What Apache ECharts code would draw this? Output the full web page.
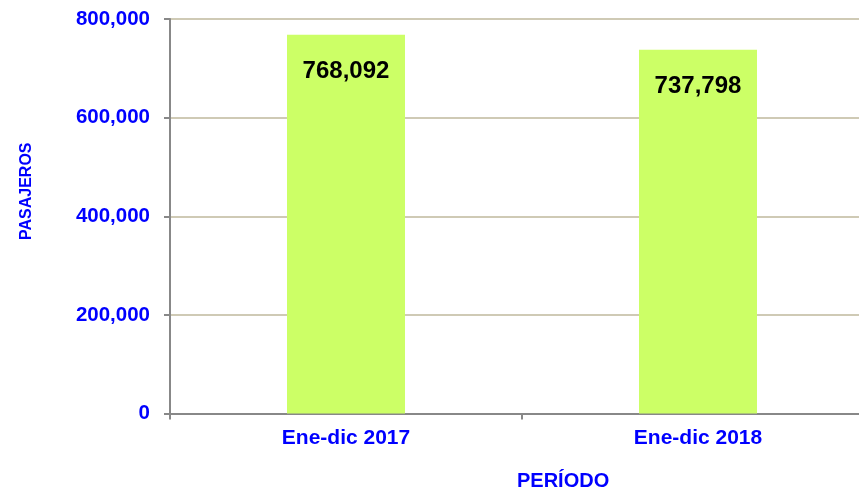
<!DOCTYPE html>
<html>
<head>
<meta charset="utf-8">
<script src="https://cdn.jsdelivr.net/npm/echarts@6/dist/echarts.min.js"></script>
<style>
html,body{margin:0;padding:0;background:#fff;}
#chart{width:859px;height:494px;}
</style>
</head>
<body>
<div id="chart"></div>
<script>
var categories = ['Ene-dic 2017', 'Ene-dic 2018'];
var pasajeros = [768092, 737798];
var yTicks = [0, 200000, 400000, 600000, 800000];

var FONT = '"Liberation Sans", Arial, sans-serif';
var BLUE = '#0000FF';
var chart = echarts.init(document.getElementById('chart'), null, {renderer: 'canvas'});

function fmt(v) { return String(v).replace(/\B(?=(\d{3})+(?!\d))/g, ','); }

chart.setOption({
  animation: false,
  backgroundColor: '#ffffff',
  grid: {left: 170, top: 19, height: 394.5, width: 704, containLabel: false, outerBoundsMode: 'none'},
  xAxis: {
    type: 'category',
    data: categories,
    boundaryGap: true,
    axisLine: {show: true, lineStyle: {color: '#888888', width: 2}},
    axisTick: {show: true, length: 6, lineStyle: {color: '#888888', width: 2}},
    axisLabel: {color: BLUE, fontFamily: FONT, fontWeight: 'bold', fontSize: 21, margin: 14}
  },
  yAxis: {
    type: 'value',
    min: yTicks[0],
    max: yTicks[yTicks.length - 1],
    interval: yTicks[1] - yTicks[0],
    name: 'PASAJEROS',
    nameLocation: 'middle',
    nameRotate: 90,
    nameGap: 135,
    nameTextStyle: {color: BLUE, fontFamily: FONT, fontWeight: 'bold', fontSize: 16, padding: [0, 0, 0, 50]},
    axisLine: {show: true, lineStyle: {color: '#888888', width: 2}},
    axisTick: {show: true, length: 6, lineStyle: {color: '#888888', width: 2}},
    axisLabel: {color: BLUE, fontFamily: FONT, fontWeight: 'bold', fontSize: 20.5, margin: 20,
      formatter: function (v) { return fmt(v); }},
    splitLine: {show: true, lineStyle: {color: '#BFB89C', width: 1.5}}
  },
  graphic: [{
    type: 'text',
    left: 517,
    top: 471,
    style: {text: 'PERÍODO', fill: BLUE, font: 'bold 20px ' + FONT}
  }],
  series: [{
    type: 'bar',
    data: pasajeros,
    barWidth: 118,
    itemStyle: {color: '#CCFF66'},
    label: {
      show: true,
      position: 'insideTop',
      distance: 25,
      color: '#000000',
      fontFamily: FONT,
      fontWeight: 'bold',
      fontSize: 24,
      formatter: function (p) { return fmt(p.value); }
    }
  }]
});
</script>
</body>
</html>
